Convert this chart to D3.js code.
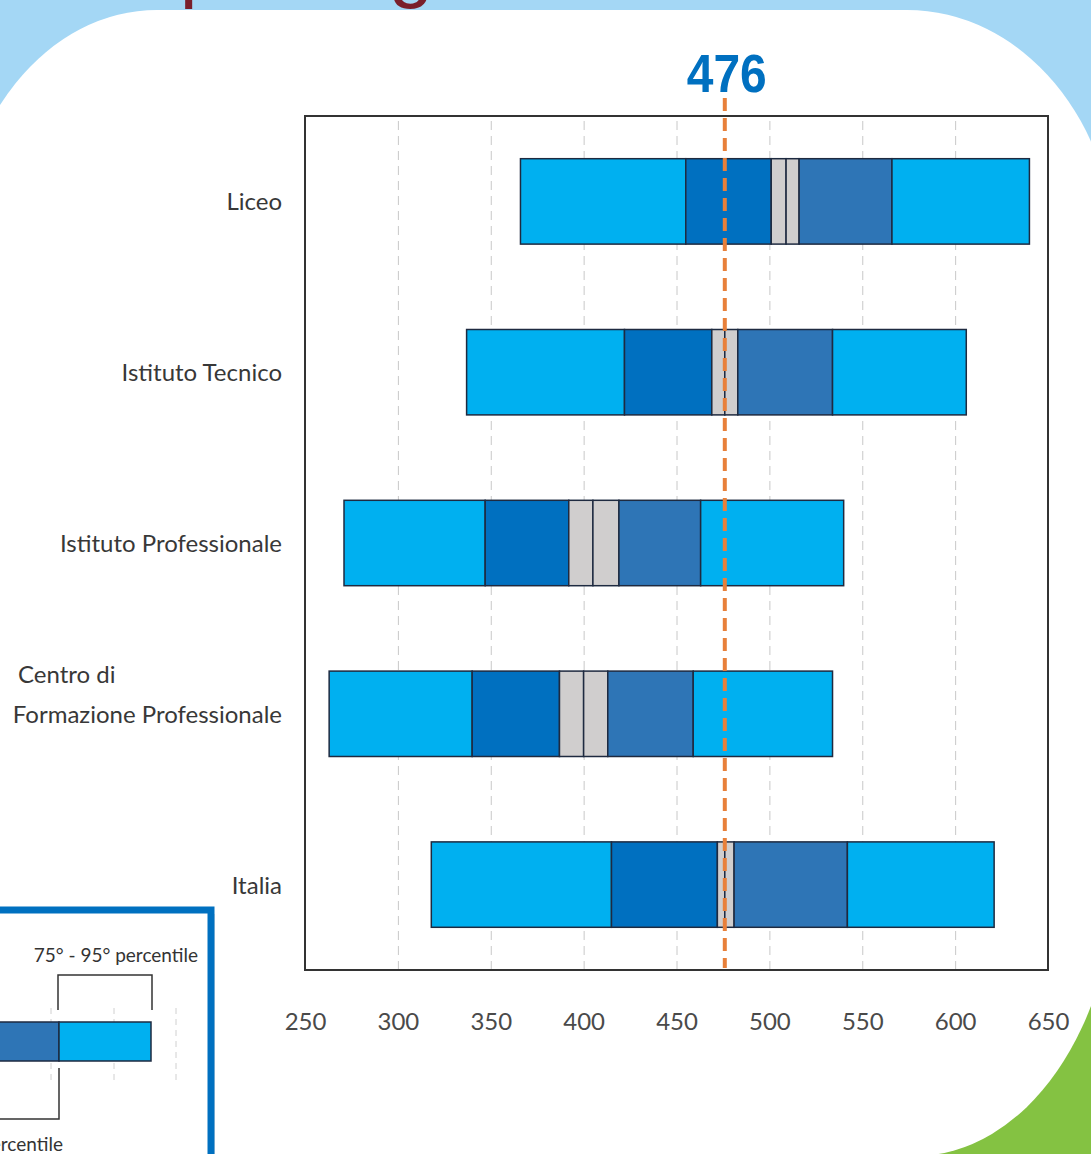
<!DOCTYPE html>
<html>
<head>
<meta charset="utf-8">
<script src="https://cdn.jsdelivr.net/npm/d3@7"></script>
<style>
  body { margin: 0; background: #a4d7f5; }
  svg { display: block; }
</style>
</head>
<body>
<div id="chart"></div>
<script>
'use strict';

// categories and percentile values
const categories = ["Liceo", "Istituto Tecnico", "Istituto Professionale", "Centro di Formazione Professionale", "Italia"];
const p5     = [366, 337, 271, 263, 318];
const p25    = [455, 422, 347, 340, 415];
const ciLow  = [501, 469, 392, 387, 472];
const mean   = [509, 476, 405, 400, 476];
const ciHigh = [516, 483, 419, 413, 481];
const p75    = [566, 534, 463, 459, 542];
const p95    = [640, 606, 540, 534, 621];
const reference = 476;
const tickValues = [250, 300, 350, 400, 450, 500, 550, 600, 650];
const gridValues = [300, 350, 400, 450, 500, 550, 600];

const width = 1091;
const height = 1154;
const frame = { left: 305, right: 1048, top: 116, bottom: 970 };

const segColors = ["#00b0f0", "#0070c0", "#d0cece", "#d0cece", "#2e75b6", "#00b0f0"];

const svg = d3.select("#chart").append("svg")
    .attr("width", width)
    .attr("height", height);

// background: light blue page, green corner, white panel
svg.append("rect").attr("width", width).attr("height", height).attr("fill", "#a4d7f5");
svg.append("rect").attr("x", 700).attr("y", 700).attr("width", 400).attr("height", 460).attr("fill", "#84c242");

// cut-off title behind the panel
svg.append("text")
    .attr("x", -127)
    .attr("y", -8)
    .attr("font-family", "Liberation Sans, Arial, sans-serif")
    .attr("font-size", 80)
    .attr("fill", "#7a1f2b")
    .text("Risultati per regione");

svg.append("path")
    .attr("d", "M-43,260 A200,250 0 0 1 157,10 H907 A209,250 0 0 1 1116,260 V866 A201,290 0 0 1 915,1156 H-43 Z")
    .attr("fill", "#ffffff");

// scales
const x = d3.scaleLinear()
    .domain([250, 650])
    .range([frame.left, frame.right]);

const y = d3.scaleBand()
    .domain(categories)
    .range([frame.top, frame.bottom])
    .paddingInner(0.5)
    .paddingOuter(0.25);

// dashed grid
const grid = svg.append("g")
    .attr("transform", `translate(0,${frame.bottom})`)
    .call(d3.axisBottom(x).tickValues(gridValues).tickSize(-(frame.bottom - frame.top)).tickFormat(""));
grid.select(".domain").remove();
grid.selectAll(".tick line")
    .attr("stroke", "#c8c8c8")
    .attr("stroke-width", 1)
    .attr("stroke-dasharray", "9,6");

// frame
svg.append("rect")
    .attr("x", frame.left)
    .attr("y", frame.top)
    .attr("width", frame.right - frame.left)
    .attr("height", frame.bottom - frame.top)
    .attr("fill", "none")
    .attr("stroke", "#333")
    .attr("stroke-width", 2);

// x axis labels
const xAxis = svg.append("g")
    .attr("transform", `translate(0,${frame.bottom})`)
    .call(d3.axisBottom(x).tickValues(tickValues).tickSize(0).tickPadding(43));
xAxis.select(".domain").remove();
xAxis.selectAll("text")
    .attr("font-family", "Lato, sans-serif")
    .attr("font-size", 24)
    .attr("fill", "#4a4a4a");

// bars: six segments per category
const rows = categories.map((c, i) => ({
    name: c,
    bounds: [p5[i], p25[i], ciLow[i], mean[i], ciHigh[i], p75[i], p95[i]]
}));

const row = svg.append("g").selectAll("g")
    .data(rows)
    .join("g")
    .attr("transform", d => `translate(0,${y(d.name)})`);

row.selectAll("rect")
    .data(d => d3.pairs(d.bounds).map((p, k) => ({ x0: p[0], x1: p[1], k })))
    .join("rect")
    .attr("x", d => x(d.x0))
    .attr("width", d => x(d.x1) - x(d.x0))
    .attr("height", y.bandwidth())
    .attr("fill", d => segColors[d.k])
    .attr("stroke", "#1e2a40")
    .attr("stroke-width", 1.5);

// category labels
const labelFont = "Lato, sans-serif";
const labelColor = "#383838";
categories.forEach(c => {
    const cy = y(c) + y.bandwidth() / 2;
    if (c === "Centro di Formazione Professionale") {
        svg.append("text")
            .attr("x", 18).attr("y", cy - 31)
            .attr("font-family", labelFont).attr("font-size", 24).attr("fill", labelColor)
            .text("Centro di");
        svg.append("text")
            .attr("x", 282).attr("y", cy + 9)
            .attr("text-anchor", "end")
            .attr("font-family", labelFont).attr("font-size", 24).attr("fill", labelColor)
            .text("Formazione Professionale");
    } else {
        svg.append("text")
            .attr("x", 282).attr("y", cy + 9)
            .attr("text-anchor", "end")
            .attr("font-family", labelFont).attr("font-size", 24).attr("fill", labelColor)
            .text(c);
    }
});

// reference line
svg.append("line")
    .attr("x1", x(reference)).attr("x2", x(reference))
    .attr("y1", 98).attr("y2", 968)
    .attr("stroke", "#e8803a")
    .attr("stroke-width", 4)
    .attr("stroke-dasharray", "13,7");

svg.append("text")
    .attr("x", x(reference) + 2)
    .attr("y", 92)
    .attr("text-anchor", "middle")
    .attr("font-family", "Liberation Sans, Arial, sans-serif")
    .attr("font-weight", "bold")
    .attr("font-size", 54)
    .attr("textLength", 80)
    .attr("lengthAdjust", "spacingAndGlyphs")
    .attr("fill", "#0070c0")
    .text(reference);

// legend box (bottom left, partly cut off)
const legend = svg.append("g");
legend.append("rect")
    .attr("x", -16).attr("y", 914).attr("width", 231).attr("height", 300)
    .attr("fill", "#d0d0d0").attr("opacity", 0.6);
legend.append("rect")
    .attr("x", -20).attr("y", 910).attr("width", 231).attr("height", 300)
    .attr("fill", "#fff").attr("stroke", "#0070c0").attr("stroke-width", 7);

[51, 114, 176].forEach(gx => {
    legend.append("line")
        .attr("x1", gx).attr("x2", gx).attr("y1", 1008).attr("y2", 1082)
        .attr("stroke", "#d0d0d0").attr("stroke-dasharray", "6,5");
});
legend.append("rect")
    .attr("x", -10).attr("y", 1022).attr("width", 69).attr("height", 39)
    .attr("fill", "#2e75b6").attr("stroke", "#1e2a40").attr("stroke-width", 1.5);
legend.append("rect")
    .attr("x", 59).attr("y", 1022).attr("width", 92).attr("height", 39)
    .attr("fill", "#00b0f0").attr("stroke", "#1e2a40").attr("stroke-width", 1.5);
legend.append("path")
    .attr("d", "M58,1010 V975 H152 V1010")
    .attr("fill", "none").attr("stroke", "#333").attr("stroke-width", 1.5);
legend.append("path")
    .attr("d", "M59,1068 V1119 H-5")
    .attr("fill", "none").attr("stroke", "#333").attr("stroke-width", 1.5);
legend.append("text")
    .attr("x", 198).attr("y", 962).attr("text-anchor", "end")
    .attr("font-family", labelFont).attr("font-size", 19).attr("fill", "#333")
    .text("75° - 95° percentile");
legend.append("text")
    .attr("x", 63).attr("y", 1151).attr("text-anchor", "end")
    .attr("font-family", labelFont).attr("font-size", 19).attr("fill", "#333")
    .text("Media - 75° percentile");
</script>
</body>
</html>
